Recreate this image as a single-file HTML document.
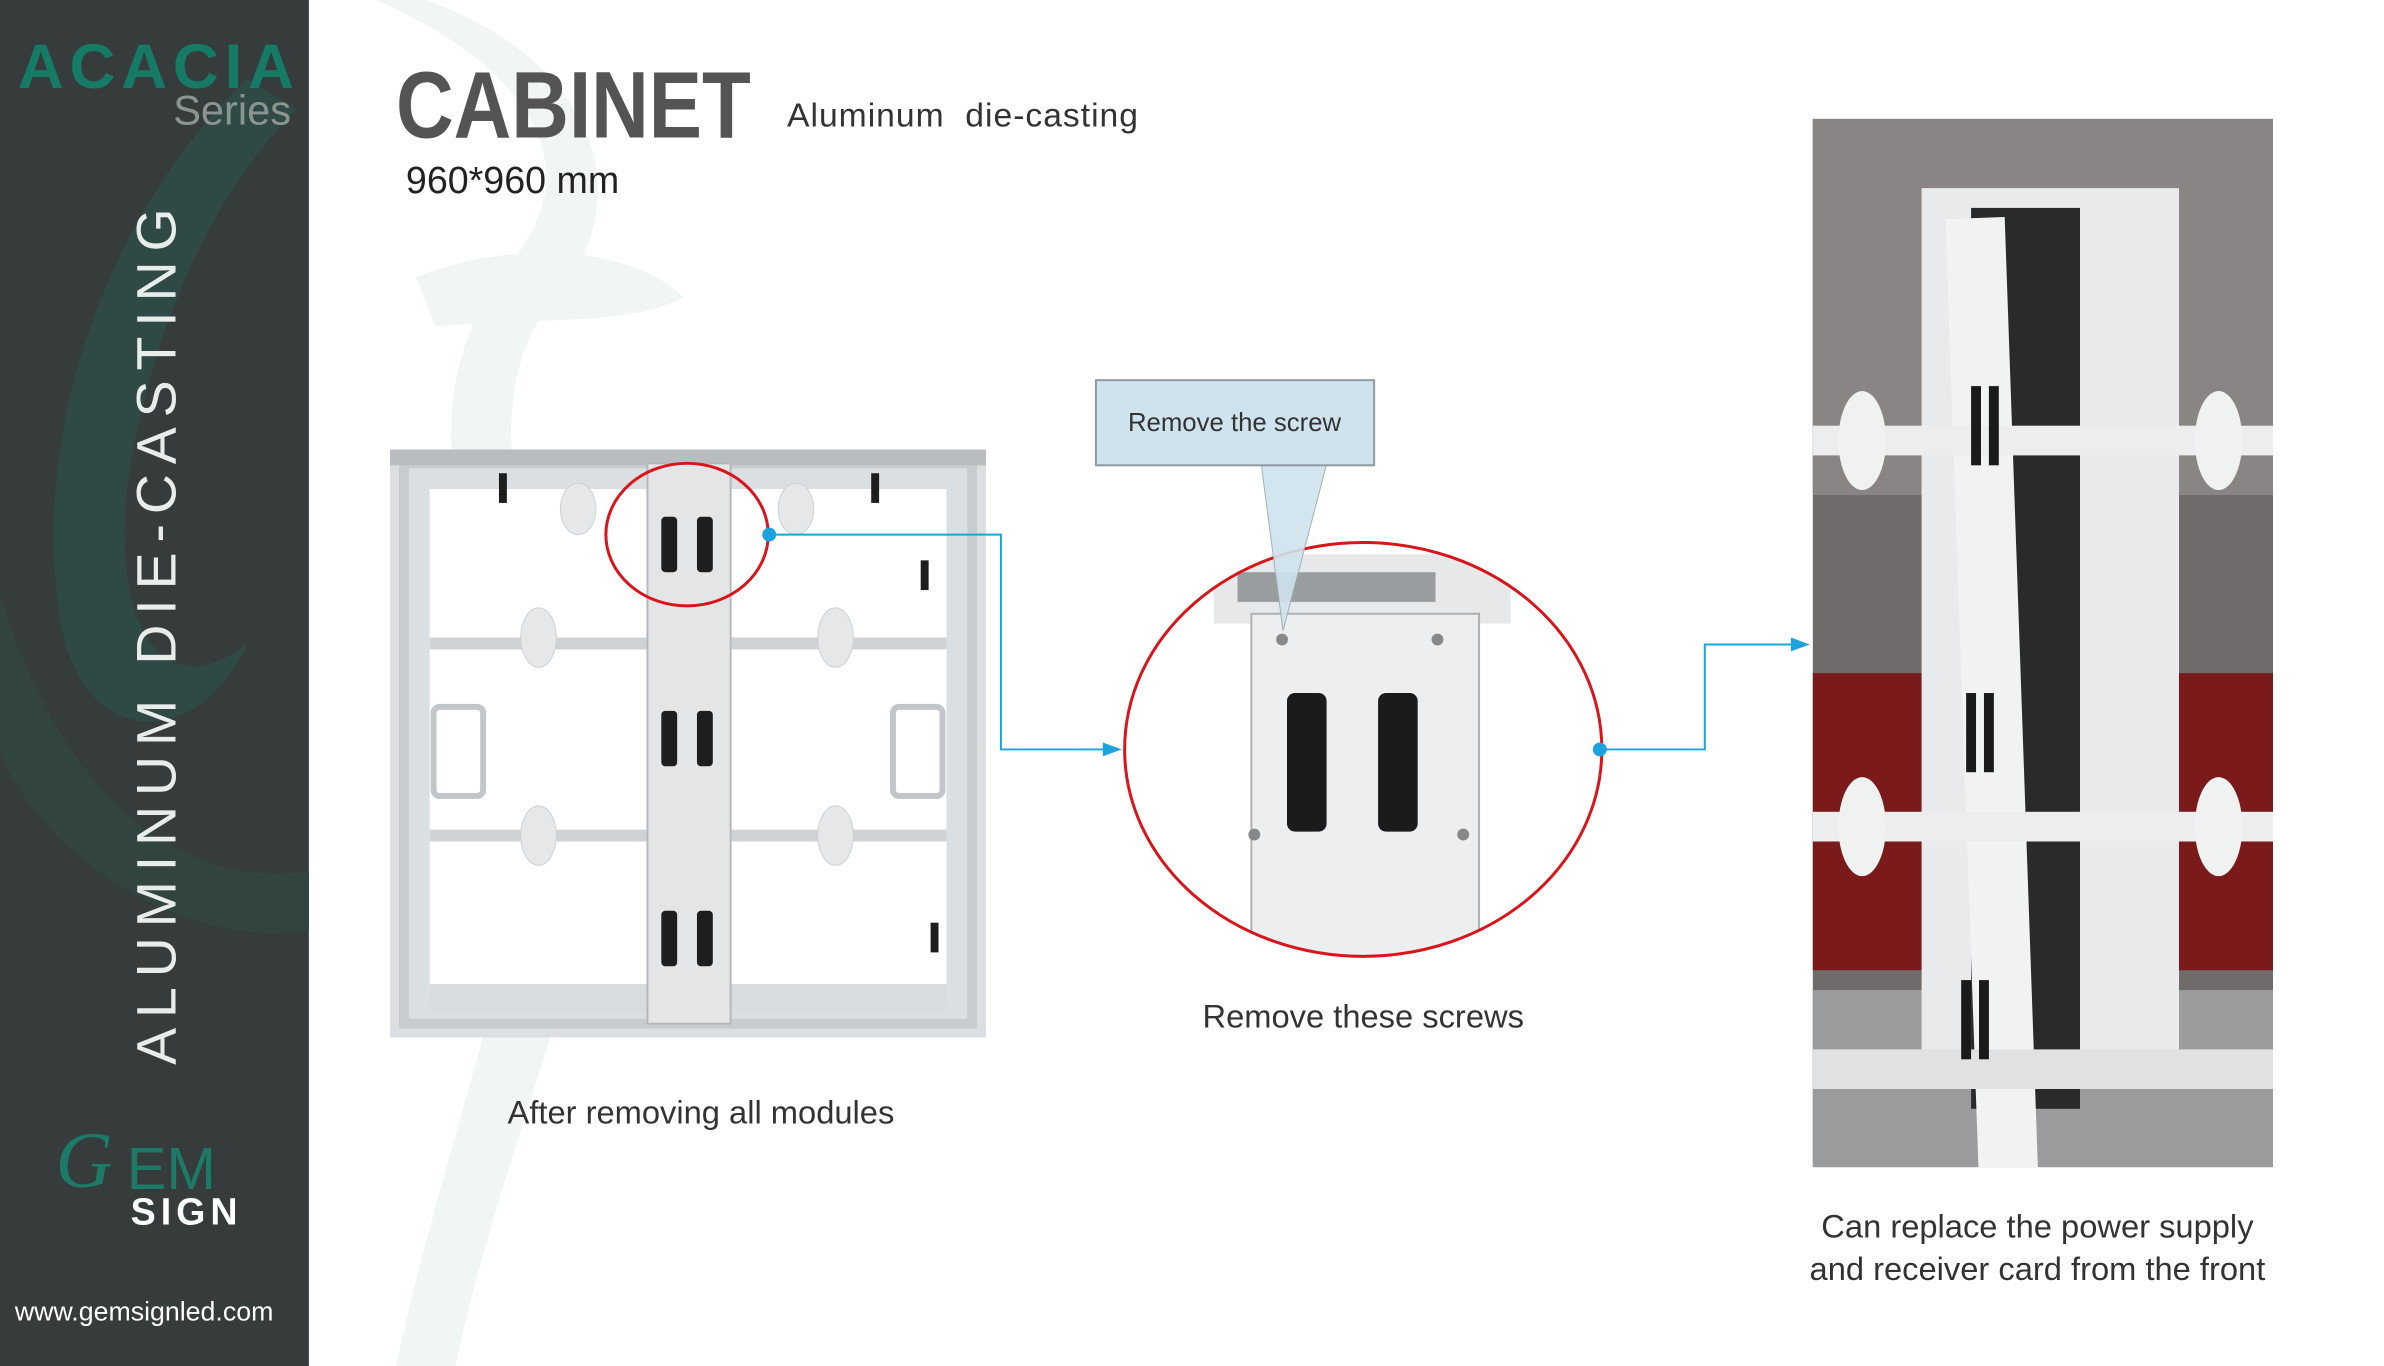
<!DOCTYPE html>
<html><head><meta charset="utf-8"><style>
html,body{margin:0;padding:0}
body{width:2384px;height:1342px;position:relative;overflow:hidden;background:#fff;font-family:"Liberation Sans",sans-serif}
.abs{position:absolute}
.t{position:absolute;white-space:nowrap;color:#333}
#w{position:absolute;left:0;top:0;width:2384px;height:1342px;transform:scale(0.99);transform-origin:0 0}
</style></head><body>
<div id="w">
<svg class="abs" style="left:0;top:0" width="2384" height="1380">
<path d="M430 0 C600 60 650 200 560 300 C480 400 520 560 600 700 C640 900 520 1100 460 1380 L400 1380 C460 1100 560 900 520 700 C450 520 420 380 520 260 C600 160 520 60 380 0Z" fill="#f1f5f4"/>
<path d="M420 280 C520 240 640 250 690 300 C640 330 540 320 440 330Z" fill="#f1f5f4"/>
<rect x="0" y="0" width="312" height="1380" fill="#353c3b"/>
<path d="M250 80 C120 200 30 420 60 620 C80 760 200 760 250 650 C160 720 110 620 130 480 C160 300 230 180 300 110Z" fill="#2f4a45"/>
<path d="M0 600 C60 800 180 900 312 880 L312 940 C180 960 40 860 0 760Z" fill="#31443f"/>
</svg>

<div class="t" style="left:18px;top:30px;font-size:64px;font-weight:bold;color:#157a66;letter-spacing:6px">ACACIA</div>
<div class="t" style="right:2090px;top:88px;font-size:42px;color:#8a9591">Series</div>
<div class="t" style="left:158px;top:638px;transform:translate(-50%,-50%) rotate(-90deg);font-size:56px;color:#e8ecea;letter-spacing:10px">ALUMINUM&nbsp;DIE-CASTING</div>
<div class="t" style="left:56px;top:1128px;font-size:80px;font-style:italic;color:#1d7a66;font-family:'Liberation Serif',serif">G</div>
<div class="t" style="left:128px;top:1146px;font-size:60px;color:#1d7a66">EM</div>
<div class="t" style="left:132px;top:1204px;font-size:38px;font-weight:bold;color:#fff;letter-spacing:5px">SIGN</div>
<div class="t" style="left:15px;top:1310px;font-size:27px;color:#fff">www.gemsignled.com</div>

<div class="t" style="left:400px;top:52px;font-size:96px;font-weight:bold;color:#545454;transform:scaleX(0.84);transform-origin:0 0">CABINET</div>
<div class="t" style="left:795px;top:98px;font-size:34px;color:#333;letter-spacing:1px">Aluminum&nbsp; die-casting</div>
<div class="t" style="left:410px;top:162px;font-size:38px;color:#222">960*960 mm</div>

<svg class="abs" style="left:394px;top:454px" width="602" height="594" viewBox="0 0 602 594">
<rect x="0" y="0" width="602" height="594" fill="#dcdfe1"/>
<rect x="14" y="14" width="574" height="566" fill="none" stroke="#c8cccf" stroke-width="10"/>
<rect x="40" y="40" width="522" height="510" fill="#fff"/>
<rect x="0" y="0" width="602" height="16" fill="#b9bdc0"/>
<rect x="40" y="190" width="522" height="12" fill="#d0d3d6"/>
<rect x="40" y="384" width="522" height="12" fill="#d0d3d6"/>
<rect x="40" y="540" width="522" height="30" fill="#d9dcde"/>
<rect x="260" y="14" width="84" height="566" fill="#e3e5e7" stroke="#b5b8bb" stroke-width="2"/>
<g fill="#1e1e1e">
<rect x="274" y="68" width="16" height="56" rx="4"/><rect x="310" y="68" width="16" height="56" rx="4"/>
<rect x="274" y="264" width="16" height="56" rx="4"/><rect x="310" y="264" width="16" height="56" rx="4"/>
<rect x="274" y="466" width="16" height="56" rx="4"/><rect x="310" y="466" width="16" height="56" rx="4"/>
<rect x="110" y="24" width="8" height="30"/><rect x="486" y="24" width="8" height="30"/>
<rect x="536" y="112" width="8" height="30"/><rect x="546" y="478" width="8" height="30"/>
</g>
<g fill="none" stroke="#c3c6c9" stroke-width="6">
<rect x="44" y="260" width="50" height="90" rx="6"/><rect x="508" y="260" width="50" height="90" rx="6"/>
</g>
<g fill="#e5e7e9" stroke="#cfd2d4"><ellipse cx="150" cy="190" rx="18" ry="30"/><ellipse cx="450" cy="190" rx="18" ry="30"/><ellipse cx="150" cy="390" rx="18" ry="30"/><ellipse cx="450" cy="390" rx="18" ry="30"/><ellipse cx="190" cy="60" rx="18" ry="26"/><ellipse cx="410" cy="60" rx="18" ry="26"/></g>
</svg>

<svg class="abs" style="left:0;top:0" width="2384" height="1342">
<ellipse cx="694" cy="540" rx="82" ry="72" fill="none" stroke="#d9141b" stroke-width="3"/>
<polyline points="777,540 1011,540 1011,757 1122,757" fill="none" stroke="#1aa3dc" stroke-width="2"/>
<polygon points="1133,757 1114,750 1114,764" fill="#1aa3dc"/>
<circle cx="777" cy="540" r="7" fill="#1aa3dc"/>
<polyline points="1616,757 1722,757 1722,651 1815,651" fill="none" stroke="#1aa3dc" stroke-width="2"/>
<polygon points="1828,651 1809,644 1809,658" fill="#1aa3dc"/>
</svg>

<svg class="abs" style="left:1130px;top:540px" width="500" height="440" viewBox="1130 540 500 440">
<defs><clipPath id="c"><ellipse cx="1377" cy="757" rx="241" ry="209"/></clipPath></defs>
<g clip-path="url(#c)">
<rect x="1130" y="540" width="500" height="440" fill="#fff"/>
<rect x="1226" y="560" width="300" height="70" fill="#e6e8ea"/>
<rect x="1250" y="578" width="200" height="30" fill="#9a9da0"/>
<rect x="1264" y="620" width="230" height="360" fill="#eceeef" stroke="#aeb1b4" stroke-width="2"/>
<rect x="1300" y="700" width="40" height="140" rx="8" fill="#1b1b1b"/>
<rect x="1392" y="700" width="40" height="140" rx="8" fill="#1b1b1b"/>
<circle cx="1295" cy="646" r="6" fill="#888"/><circle cx="1452" cy="646" r="6" fill="#888"/>
<circle cx="1267" cy="843" r="6" fill="#888"/><circle cx="1478" cy="843" r="6" fill="#888"/>
</g>
<ellipse cx="1377" cy="757" rx="241" ry="209" fill="none" stroke="#d9141b" stroke-width="3"/>
<circle cx="1616" cy="757" r="7" fill="#1aa3dc"/>
</svg>

<svg class="abs" style="left:0;top:0" width="2384" height="1342">
<polygon points="1274,469 1340,469 1296,637" fill="#cfe3ee" stroke="#9aa" stroke-width="1" opacity="0.9"/>
<rect x="1107" y="384" width="281" height="86" fill="#cfe3ee" stroke="#8e9aa0" stroke-width="2"/>
</svg>
<div class="t" style="left:1247px;top:427px;transform:translate(-50%,-50%);font-size:26px;color:#333">Remove the screw</div>

<svg class="abs" style="left:1831px;top:120px" width="465" height="1059" viewBox="0 0 465 1059">
<rect width="465" height="1059" fill="#6f6b6b"/>
<rect x="0" y="0" width="465" height="380" fill="#8a8585"/>
<rect x="0" y="560" width="465" height="300" fill="#7a1a1a"/>
<rect x="0" y="880" width="465" height="179" fill="#9a9b9c"/>
<rect x="110" y="70" width="260" height="900" fill="#e8eaeb"/>
<rect x="160" y="90" width="110" height="910" fill="#2a2a2a"/>
<rect x="150" y="100" width="60" height="970" fill="#f1f2f2" transform="rotate(-2 180 560)"/>
<rect x="0" y="310" width="465" height="30" fill="#ecedee"/>
<rect x="0" y="700" width="465" height="30" fill="#ecedee"/>
<g fill="#f0f1f1"><ellipse cx="50" cy="325" rx="24" ry="50"/><ellipse cx="410" cy="325" rx="24" ry="50"/><ellipse cx="50" cy="715" rx="24" ry="50"/><ellipse cx="410" cy="715" rx="24" ry="50"/></g>
<rect x="0" y="940" width="465" height="40" fill="#dfe1e2"/>
<g fill="#1a1a1a"><rect x="160" y="270" width="10" height="80"/><rect x="178" y="270" width="10" height="80"/><rect x="155" y="580" width="10" height="80"/><rect x="173" y="580" width="10" height="80"/><rect x="150" y="870" width="10" height="80"/><rect x="168" y="870" width="10" height="80"/></g>
</svg>

<div class="t" style="left:1377px;top:1027px;transform:translate(-50%,-50%);font-size:33px">Remove these screws</div>
<div class="t" style="left:708px;top:1124px;transform:translate(-50%,-50%);font-size:33px">After removing all modules</div>
<div class="t" style="left:2058px;top:1260px;transform:translate(-50%,-50%);font-size:33px;text-align:center;line-height:43px">Can replace the power supply<br>and receiver card from the front</div>
</div>
</body></html>
